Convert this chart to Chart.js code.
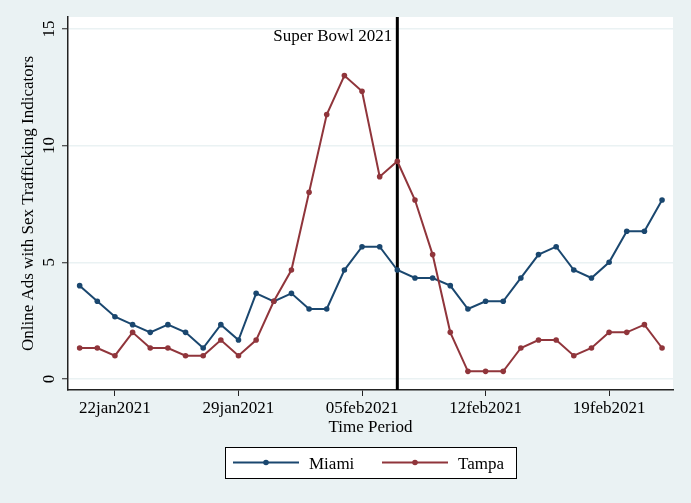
<!DOCTYPE html>
<html>
<head>
<meta charset="utf-8">
<title>Online Ads with Sex Trafficking Indicators</title>
<script src="https://cdn.jsdelivr.net/npm/chart.js@4.4.0/dist/chart.umd.min.js"></script>
<style>
  html, body { margin: 0; padding: 0; background: #eaf2f3; }
  canvas { display: block; }
</style>
</head>
<body>
<canvas id="adsChart" width="691" height="503"></canvas>
<script>
// daily observations, 20jan2021 - 22feb2021
var dates = [
    '20jan2021', '21jan2021', '22jan2021', '23jan2021', '24jan2021', '25jan2021',
    '26jan2021', '27jan2021', '28jan2021', '29jan2021', '30jan2021', '31jan2021',
    '01feb2021', '02feb2021', '03feb2021', '04feb2021', '05feb2021', '06feb2021',
    '07feb2021', '08feb2021', '09feb2021', '10feb2021', '11feb2021', '12feb2021',
    '13feb2021', '14feb2021', '15feb2021', '16feb2021', '17feb2021', '18feb2021',
    '19feb2021', '20feb2021', '21feb2021', '22feb2021'
];
var miami = [
    4, 3.33, 2.67, 2.33, 2, 2.33, 2, 1.33, 2.33, 1.67, 3.67, 3.33,
    3.67, 3, 3, 4.67, 5.67, 5.67, 4.67, 4.33, 4.33, 4, 3, 3.33,
    3.33, 4.33, 5.33, 5.67, 4.67, 4.33, 5, 6.33, 6.33, 7.67
];
var tampa = [
    1.33, 1.33, 1, 2, 1.33, 1.33, 1, 1, 1.67, 1, 1.67, 3.33,
    4.67, 8, 11.33, 13, 12.33, 8.67, 9.33, 7.67, 5.33, 2, 0.33, 0.33,
    0.33, 1.33, 1.67, 1.67, 1, 1.33, 2, 2, 2.33, 1.33
];
var xTickLabels = ['22jan2021', '29jan2021', '05feb2021', '12feb2021', '19feb2021'];
var yTicks = [0, 5, 10, 15];
var superBowlDate = '07feb2021';
var superBowlLabel = 'Super Bowl 2021';

var serif = "'Liberation Serif', 'Times New Roman', serif";
var bgColor = '#eaf2f3';
var axisColor = '#222222';

function toPoints(values) {
    return values.map(function (v, i) { return { x: i, y: v }; });
}

// background, game-day line, rotated y labels and the boxed legend
var stataLook = {
    id: 'stataLook',
    beforeDraw: function (chart) {
        var ctx = chart.ctx, a = chart.chartArea;
        ctx.save();
        ctx.fillStyle = bgColor;
        ctx.fillRect(0, 0, chart.width, chart.height);
        ctx.fillStyle = '#ffffff';
        ctx.fillRect(a.left, a.top, a.right - a.left, a.bottom - a.top);
        ctx.restore();
    },
    beforeDatasetsDraw: function (chart) {
        var ctx = chart.ctx, a = chart.chartArea;
        var x = chart.scales.x.getPixelForValue(dates.indexOf(superBowlDate));
        ctx.save();
        ctx.strokeStyle = '#000000';
        ctx.lineWidth = 3;
        ctx.beginPath();
        ctx.moveTo(x, a.top);
        ctx.lineTo(x, a.bottom);
        ctx.stroke();
        ctx.fillStyle = '#000000';
        ctx.font = '17px ' + serif;
        ctx.textAlign = 'right';
        ctx.textBaseline = 'alphabetic';
        ctx.fillText(superBowlLabel, x - 5, a.top + 24);
        ctx.restore();
    },
    afterDraw: function (chart) {
        var ctx = chart.ctx;
        var yScale = chart.scales.y;
        ctx.save();
        ctx.fillStyle = '#000000';
        ctx.font = '17px ' + serif;

        // y tick labels, turned like the axis title
        yScale.ticks.forEach(function (t) {
            var py = yScale.getPixelForValue(t.value);
            ctx.save();
            ctx.translate(yScale.right - 14, py);
            ctx.rotate(-Math.PI / 2);
            ctx.textAlign = 'center';
            ctx.textBaseline = 'alphabetic';
            ctx.fillText(String(t.value), 0, 0);
            ctx.restore();
        });

        // legend box
        var box = { left: 225, top: 447, width: 291, height: 31 };
        var cy = box.top + box.height / 2;
        ctx.fillStyle = '#ffffff';
        ctx.fillRect(box.left, box.top, box.width, box.height);
        ctx.strokeStyle = '#000000';
        ctx.lineWidth = 1;
        ctx.strokeRect(box.left + 0.5, box.top + 0.5, box.width, box.height);

        var starts = [233, 382];
        chart.data.datasets.forEach(function (ds, i) {
            var x0 = starts[i];
            ctx.strokeStyle = ds.borderColor;
            ctx.lineWidth = 2;
            ctx.beginPath();
            ctx.moveTo(x0, cy);
            ctx.lineTo(x0 + 66, cy);
            ctx.stroke();
            ctx.fillStyle = ds.borderColor;
            ctx.beginPath();
            ctx.arc(x0 + 33, cy, 2.8, 0, Math.PI * 2);
            ctx.fill();
            ctx.fillStyle = '#000000';
            ctx.textAlign = 'left';
            ctx.textBaseline = 'alphabetic';
            ctx.fillText(ds.label, x0 + 76, cy + 6);
        });
        ctx.restore();
    }
};

var ctx = document.getElementById('adsChart').getContext('2d');
var adsChart = new Chart(ctx, {
    type: 'line',
    data: {
        datasets: [{
            label: 'Miami',
            data: toPoints(miami),
            borderColor: '#1a476f',
            backgroundColor: '#1a476f',
            borderWidth: 2,
            pointRadius: 2.8,
            pointBorderWidth: 0,
            pointBackgroundColor: '#1a476f',
            tension: 0,
            order: 1
        }, {
            label: 'Tampa',
            data: toPoints(tampa),
            borderColor: '#90353b',
            backgroundColor: '#90353b',
            borderWidth: 2,
            pointRadius: 2.8,
            pointBorderWidth: 0,
            pointBackgroundColor: '#90353b',
            tension: 0,
            order: 0
        }]
    },
    options: {
        responsive: false,
        animation: false,
        devicePixelRatio: 1,
        layout: { padding: { left: 20, right: 18, top: 17, bottom: 67 } },
        plugins: {
            legend: { display: false },
            tooltip: { enabled: false }
        },
        scales: {
            x: {
                type: 'linear',
                min: -0.66,
                max: 33.62,
                afterBuildTicks: function (scale) {
                    scale.ticks = xTickLabels.map(function (d) { return { value: dates.indexOf(d) }; });
                },
                afterFit: function (scale) { scale.height = 46; },
                ticks: {
                    autoSkip: false,
                    maxRotation: 0,
                    padding: 2,
                    color: '#000000',
                    font: { family: serif, size: 17, lineHeight: 1.2 },
                    callback: function (value) { return dates[value]; }
                },
                grid: { drawOnChartArea: false, tickColor: axisColor, tickLength: 6, tickWidth: 1 },
                border: { color: axisColor, width: 1.5 },
                title: {
                    display: true,
                    text: 'Time Period',
                    color: '#000000',
                    padding: 0,
                    font: { family: serif, size: 17, lineHeight: 1 }
                }
            },
            y: {
                type: 'linear',
                min: -0.47,
                max: 15.51,
                afterBuildTicks: function (scale) {
                    scale.ticks = yTicks.map(function (v) { return { value: v }; });
                },
                afterFit: function (scale) { scale.width = 48; },
                ticks: { display: false },
                grid: { color: bgColor, lineWidth: 1.5, tickColor: axisColor, tickLength: 6, tickWidth: 1 },
                border: { color: axisColor, width: 1.5 },
                title: {
                    display: true,
                    text: 'Online Ads with Sex Trafficking Indicators',
                    color: '#000000',
                    padding: 0,
                    font: { family: serif, size: 17, lineHeight: 1 }
                }
            }
        }
    },
    plugins: [stataLook]
});
</script>
</body>
</html>
